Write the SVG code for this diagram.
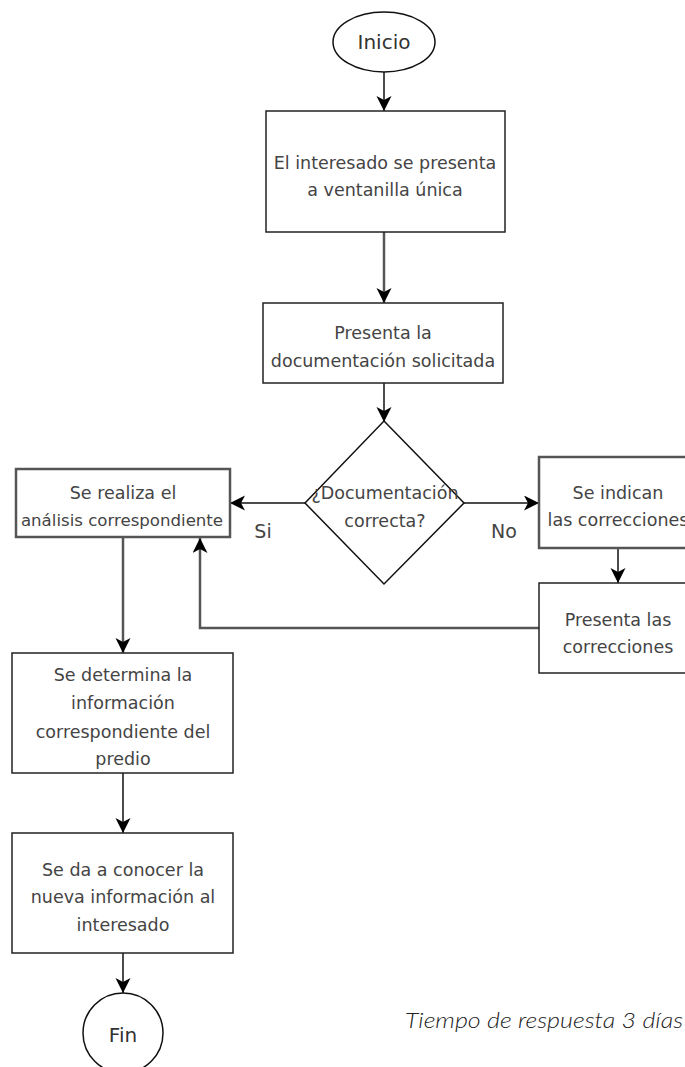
<svg xmlns="http://www.w3.org/2000/svg" width="685" height="1067" viewBox="0 0 685 1067">
<defs>
<marker id="arr" markerUnits="userSpaceOnUse" markerWidth="16" markerHeight="16" refX="15" refY="7.5" orient="auto">
<path d="M0,0 L15,7.5 L0,15 L4,7.5 z" fill="#000"/>
</marker>
<style>
.box{fill:#fff;stroke:#222;stroke-width:1.5}
.gbox{fill:#fff;stroke:#555;stroke-width:2.5}
.t{font-family:"DejaVu Sans",sans-serif;font-size:17.5px;fill:#444;text-anchor:middle}
.big{font-family:"DejaVu Sans",sans-serif;font-size:20px;fill:#333;text-anchor:middle}
.lbl{font-family:"DejaVu Sans",sans-serif;font-size:19px;fill:#444;text-anchor:middle}
.c{fill:none;stroke:#111;stroke-width:1.5;marker-end:url(#arr)}
.cg{fill:none;stroke:#555;stroke-width:2.5;marker-end:url(#arr)}
</style>
</defs>
<rect width="685" height="1067" fill="#fff"/>
<g id="connectors">
<path class="c" d="M384,72 L384,111"/>
<path class="cg" d="M384,232 L384,303"/>
<path class="c" d="M384,383 L384,422"/>
<path class="c" d="M305,503 L230,503"/>
<path class="c" d="M464,503 L539,503"/>
<path class="c" d="M618,548 L618,583"/>
<path class="cg" d="M539,628 L200,628 L200,538"/>
<path class="cg" d="M123,537 L123,653"/>
<path class="c" d="M123,773 L123,833"/>
<path class="c" d="M123,953 L123,993"/>
</g>
<g id="inicio">
<ellipse cx="384" cy="42" rx="51" ry="30" fill="#fff" stroke="#111" stroke-width="1.5"/>
<text class="big" x="384" y="49">Inicio</text>
</g>
<g id="n1">
<rect class="box" x="266" y="111" width="239" height="121"/>
<text class="t" x="385" y="169">El interesado se presenta</text>
<text class="t" x="385" y="196">a ventanilla única</text>
</g>
<g id="n2">
<rect class="box" x="263" y="303" width="240" height="80"/>
<text class="t" x="383" y="339">Presenta la</text>
<text class="t" x="383" y="367">documentación solicitada</text>
</g>
<g id="decision">
<polygon points="384,421 464,503 384,584 305,503" fill="#fff" stroke="#111" stroke-width="1.5"/>
<text class="t" x="385" y="499">¿Documentación</text>
<text class="t" x="385" y="527">correcta?</text>
</g>
<g id="n3">
<rect class="gbox" x="16" y="469" width="214" height="68" stroke-width="2"/>
<text class="t" x="123" y="499">Se realiza el</text>
<text class="t" x="122" y="526" style="font-size:16.6px">análisis correspondiente</text>
</g>
<g id="n4">
<rect class="gbox" x="539" y="457" width="158" height="91"/>
<text class="t" x="618" y="499">Se indican</text>
<text class="t" x="618" y="526">las correcciones</text>
</g>
<g id="n5">
<rect class="box" x="539" y="583" width="158" height="90"/>
<text class="t" x="618" y="626">Presenta las</text>
<text class="t" x="618" y="653">correcciones</text>
</g>
<g id="n6">
<rect class="box" x="12" y="653" width="221" height="120"/>
<text class="t" x="123" y="681">Se determina la</text>
<text class="t" x="123" y="709">información</text>
<text class="t" x="123" y="738">correspondiente del</text>
<text class="t" x="123" y="765">predio</text>
</g>
<g id="n7">
<rect class="box" x="12" y="833" width="221" height="120"/>
<text class="t" x="123" y="876">Se da a conocer la</text>
<text class="t" x="123" y="903">nueva información al</text>
<text class="t" x="123" y="931">interesado</text>
</g>
<g id="fin">
<circle cx="123" cy="1033" r="40" fill="#fff" stroke="#111" stroke-width="1.5"/>
<text class="big" x="123" y="1042">Fin</text>
</g>
<g id="labels">
<text class="lbl" x="263" y="538">Si</text>
<text class="lbl" x="504" y="538">No</text>
<text x="405" y="1028" font-family="Lato,sans-serif" font-style="italic" font-weight="300" font-size="22" fill="#222" textLength="278" lengthAdjust="spacingAndGlyphs">Tiempo de respuesta 3 días</text>
</g>
</svg>
